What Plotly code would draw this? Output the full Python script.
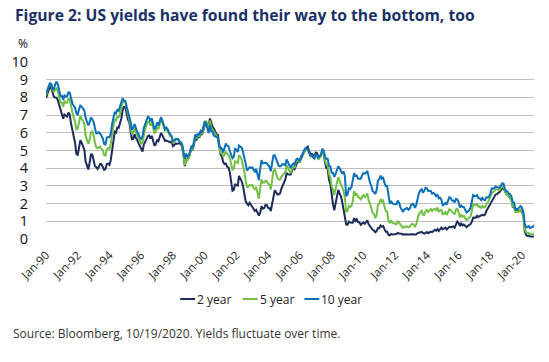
import pandas as pd
import plotly.graph_objects as go

# Monthly US Treasury yields (%), Jan-1990 .. Oct-2020
y2 = [
 7.97, 8.24, 8.42, 8.61, 8.53, 8.24, 8.04, 7.99, 7.98, 7.83, 7.56, 7.25,
 7.02, 6.79, 7.03, 6.97, 6.91, 7.14, 7.04, 6.51, 6.16, 5.81, 5.43, 4.81,
 4.76, 5.17, 5.58, 5.44, 5.28, 5.04, 4.37, 4.20, 3.93, 4.31, 4.77, 4.77,
 4.45, 4.11, 4.07, 3.96, 4.07, 4.24, 4.22, 4.09, 3.91, 3.95, 4.24, 4.26,
 4.19, 4.48, 5.03, 5.60, 6.06, 6.01, 6.30, 6.28, 6.53, 6.81, 7.30, 7.46,
 7.44, 7.06, 6.75, 6.60, 6.09, 5.64, 5.66, 5.91, 5.71, 5.60, 5.40, 5.24,
 5.09, 4.94, 5.34, 5.54, 5.64, 5.81, 5.85, 5.67, 5.83, 5.55, 5.27, 5.35,
 5.61, 5.53, 5.80, 5.99, 5.87, 5.69, 5.54, 5.56, 5.52, 5.46, 5.46, 5.53,
 5.24, 5.31, 5.39, 5.38, 5.41, 5.41, 5.36, 5.21, 4.71, 4.12, 4.53, 4.52,
 4.61, 4.90, 5.11, 5.03, 5.33, 5.70, 5.62, 5.77, 5.75, 5.94, 5.92, 6.14,
 6.44, 6.61, 6.53, 6.40, 6.81, 6.48, 6.34, 6.23, 6.08, 5.91, 5.88, 5.35,
 4.76, 4.66, 4.34, 4.23, 4.26, 4.08, 4.04, 3.76, 3.12, 2.73, 2.78, 3.11,
 3.03, 3.02, 3.56, 3.42, 3.26, 2.99, 2.56, 2.13, 2.00, 1.91, 2.05, 1.94,
 1.80, 1.70, 1.58, 1.65, 1.49, 1.33, 1.47, 1.86, 1.71, 1.75, 1.93, 1.91,
 1.76, 1.74, 1.58, 2.07, 2.53, 2.76, 2.64, 2.51, 2.53, 2.58, 2.85, 3.01,
 3.22, 3.38, 3.73, 3.65, 3.64, 3.64, 3.87, 4.04, 3.95, 4.17, 4.33, 4.35,
 4.45, 4.68, 4.77, 4.90, 5.00, 5.16, 5.22, 4.97, 4.81, 4.80, 4.74, 4.67,
 4.88, 4.85, 4.57, 4.67, 4.77, 4.96, 4.82, 4.31, 4.01, 3.97, 3.34, 3.12,
 2.48, 1.97, 1.62, 2.05, 2.45, 2.77, 2.57, 2.42, 2.08, 1.61, 1.21, 0.82,
 0.81, 0.98, 0.93, 0.93, 0.92, 1.18, 1.02, 1.12, 0.96, 0.95, 0.80, 0.87,
 0.93, 0.86, 0.96, 1.06, 0.83, 0.72, 0.62, 0.52, 0.48, 0.38, 0.45, 0.62,
 0.61, 0.77, 0.70, 0.73, 0.56, 0.41, 0.41, 0.23, 0.21, 0.28, 0.25, 0.26,
 0.24, 0.28, 0.34, 0.29, 0.29, 0.29, 0.25, 0.27, 0.26, 0.28, 0.27, 0.26,
 0.27, 0.27, 0.26, 0.23, 0.25, 0.33, 0.34, 0.36, 0.40, 0.34, 0.30, 0.34,
 0.39, 0.33, 0.40, 0.42, 0.39, 0.45, 0.51, 0.47, 0.57, 0.45, 0.53, 0.64,
 0.55, 0.62, 0.64, 0.54, 0.61, 0.69, 0.67, 0.70, 0.71, 0.64, 0.88, 0.98,
 0.90, 0.73, 0.88, 0.77, 0.82, 0.73, 0.67, 0.74, 0.77, 0.84, 0.98, 1.20,
 1.21, 1.20, 1.31, 1.24, 1.30, 1.34, 1.37, 1.34, 1.38, 1.58, 1.73, 1.84,
 2.03, 2.18, 2.28, 2.38, 2.51, 2.53, 2.61, 2.64, 2.77, 2.86, 2.86, 2.68,
 2.54, 2.50, 2.41, 2.34, 2.21, 1.81, 1.84, 1.57, 1.65, 1.55, 1.61, 1.61,
 1.52, 1.33, 0.45, 0.23, 0.17, 0.19, 0.14, 0.14, 0.13, 0.14,
]
y5 = [
 8.12, 8.42, 8.60, 8.77, 8.74, 8.43, 8.33, 8.44, 8.51, 8.33, 8.02, 7.73,
 7.70, 7.47, 7.77, 7.70, 7.70, 7.94, 7.91, 7.43, 7.14, 6.87, 6.62, 6.19,
 6.24, 6.58, 6.95, 6.78, 6.69, 6.48, 5.84, 5.60, 5.38, 5.60, 6.04, 6.08,
 5.83, 5.43, 5.19, 5.13, 5.20, 5.22, 5.09, 5.03, 4.73, 4.71, 5.06, 5.15,
 5.09, 5.40, 5.94, 6.52, 6.78, 6.70, 6.91, 6.88, 7.08, 7.40, 7.72, 7.78,
 7.76, 7.37, 7.05, 6.86, 6.41, 5.93, 6.01, 6.24, 6.00, 5.86, 5.69, 5.51,
 5.38, 5.44, 5.94, 6.24, 6.42, 6.62, 6.64, 6.41, 6.60, 6.27, 5.97, 6.07,
 6.33, 6.20, 6.54, 6.76, 6.57, 6.38, 6.12, 6.16, 6.11, 5.93, 5.80, 5.77,
 5.42, 5.49, 5.61, 5.61, 5.63, 5.52, 5.46, 5.27, 4.62, 4.18, 4.54, 4.45,
 4.60, 4.91, 5.14, 5.08, 5.44, 5.81, 5.68, 5.84, 5.80, 6.03, 5.97, 6.19,
 6.58, 6.68, 6.50, 6.26, 6.69, 6.30, 6.18, 6.06, 5.93, 5.78, 5.70, 5.17,
 4.86, 4.89, 4.64, 4.76, 4.93, 4.81, 4.76, 4.57, 4.12, 3.91, 3.97, 4.39,
 4.34, 4.30, 4.74, 4.65, 4.49, 4.19, 3.81, 3.29, 2.94, 2.95, 3.05, 3.03,
 3.05, 2.90, 2.78, 2.93, 2.52, 2.27, 2.87, 3.37, 3.18, 3.19, 3.29, 3.27,
 3.12, 3.07, 2.79, 3.39, 3.85, 3.93, 3.69, 3.47, 3.36, 3.35, 3.53, 3.60,
 3.71, 3.77, 4.17, 4.00, 3.85, 3.77, 3.98, 4.12, 4.01, 4.33, 4.45, 4.39,
 4.35, 4.57, 4.72, 4.90, 5.00, 5.07, 5.04, 4.82, 4.67, 4.69, 4.58, 4.53,
 4.75, 4.71, 4.48, 4.59, 4.67, 5.03, 4.88, 4.43, 4.20, 4.20, 3.67, 3.49,
 2.98, 2.78, 2.48, 2.84, 3.15, 3.49, 3.30, 3.14, 2.88, 2.73, 2.29, 1.52,
 1.60, 1.87, 1.82, 1.86, 2.13, 2.71, 2.46, 2.57, 2.37, 2.33, 2.23, 2.34,
 2.48, 2.36, 2.43, 2.58, 2.18, 2.00, 1.76, 1.47, 1.41, 1.18, 1.35, 1.93,
 1.99, 2.26, 2.11, 2.17, 1.84, 1.58, 1.54, 1.02, 0.90, 1.06, 0.91, 0.89,
 0.84, 0.83, 1.02, 0.89, 0.76, 0.71, 0.62, 0.71, 0.67, 0.71, 0.67, 0.70,
 0.81, 0.85, 0.82, 0.71, 0.84, 1.20, 1.40, 1.52, 1.60, 1.37, 1.37, 1.58,
 1.65, 1.52, 1.64, 1.70, 1.59, 1.68, 1.70, 1.63, 1.77, 1.55, 1.62, 1.64,
 1.37, 1.47, 1.52, 1.35, 1.54, 1.68, 1.63, 1.54, 1.49, 1.39, 1.67, 1.70,
 1.52, 1.22, 1.38, 1.26, 1.30, 1.17, 1.07, 1.13, 1.18, 1.27, 1.60, 1.96,
 1.92, 1.90, 2.01, 1.82, 1.84, 1.77, 1.87, 1.78, 1.80, 1.98, 2.05, 2.18,
 2.38, 2.60, 2.63, 2.70, 2.82, 2.78, 2.78, 2.77, 2.89, 3.00, 2.95, 2.68,
 2.54, 2.49, 2.37, 2.33, 2.19, 1.83, 1.83, 1.49, 1.57, 1.53, 1.64, 1.68,
 1.56, 1.32, 0.59, 0.39, 0.34, 0.34, 0.28, 0.27, 0.27, 0.34,
]
y10 = [
 8.21, 8.47, 8.59, 8.79, 8.76, 8.48, 8.47, 8.75, 8.89, 8.72, 8.39, 8.08,
 8.09, 7.85, 8.11, 8.04, 8.07, 8.28, 8.27, 7.90, 7.65, 7.53, 7.42, 7.09,
 7.03, 7.34, 7.54, 7.48, 7.39, 7.26, 6.84, 6.59, 6.42, 6.59, 6.87, 6.77,
 6.60, 6.26, 5.98, 5.97, 6.04, 5.96, 5.81, 5.68, 5.36, 5.33, 5.72, 5.77,
 5.75, 5.97, 6.48, 6.97, 7.18, 7.10, 7.30, 7.24, 7.46, 7.74, 7.96, 7.81,
 7.78, 7.47, 7.20, 7.06, 6.63, 6.17, 6.28, 6.49, 6.20, 6.04, 5.93, 5.71,
 5.65, 5.81, 6.27, 6.51, 6.74, 6.91, 6.87, 6.64, 6.83, 6.53, 6.20, 6.30,
 6.58, 6.42, 6.69, 6.89, 6.71, 6.49, 6.22, 6.30, 6.21, 6.03, 5.88, 5.81,
 5.54, 5.57, 5.65, 5.64, 5.65, 5.50, 5.46, 5.34, 4.81, 4.53, 4.83, 4.65,
 4.72, 5.00, 5.23, 5.18, 5.54, 5.90, 5.79, 5.94, 5.92, 6.11, 6.03, 6.28,
 6.66, 6.52, 6.26, 5.99, 6.44, 6.10, 6.05, 5.83, 5.80, 5.74, 5.72, 5.24,
 5.16, 5.10, 4.89, 5.14, 5.39, 5.28, 5.24, 4.97, 4.73, 4.57, 4.65, 5.09,
 5.04, 4.91, 5.28, 5.21, 5.16, 4.93, 4.65, 4.26, 3.87, 3.94, 4.05, 4.03,
 4.05, 3.90, 3.81, 3.96, 3.57, 3.33, 3.98, 4.45, 4.27, 4.29, 4.30, 4.27,
 4.15, 4.08, 3.83, 4.35, 4.72, 4.73, 4.50, 4.28, 4.13, 4.10, 4.19, 4.23,
 4.22, 4.17, 4.50, 4.34, 4.14, 4.00, 4.18, 4.26, 4.20, 4.46, 4.54, 4.47,
 4.42, 4.57, 4.72, 4.99, 5.11, 5.11, 5.09, 4.88, 4.72, 4.73, 4.60, 4.56,
 4.76, 4.72, 4.56, 4.69, 4.75, 5.10, 5.00, 4.67, 4.52, 4.53, 4.15, 4.10,
 3.74, 3.74, 3.51, 3.68, 3.88, 4.10, 4.01, 3.89, 3.69, 3.81, 3.53, 2.42,
 2.52, 2.87, 2.82, 2.93, 3.29, 3.72, 3.56, 3.59, 3.40, 3.39, 3.40, 3.59,
 3.73, 3.69, 3.73, 3.85, 3.42, 3.20, 3.01, 2.70, 2.65, 2.54, 2.76, 3.29,
 3.39, 3.58, 3.41, 3.46, 3.17, 3.00, 3.00, 2.30, 1.98, 2.15, 2.01, 1.98,
 1.97, 1.97, 2.17, 2.05, 1.80, 1.62, 1.53, 1.68, 1.72, 1.75, 1.65, 1.72,
 1.91, 1.98, 1.96, 1.76, 1.93, 2.30, 2.58, 2.74, 2.81, 2.62, 2.72, 2.90,
 2.86, 2.71, 2.72, 2.71, 2.56, 2.60, 2.54, 2.42, 2.53, 2.30, 2.33, 2.21,
 1.88, 1.98, 2.04, 1.94, 2.20, 2.36, 2.32, 2.17, 2.17, 2.07, 2.26, 2.24,
 2.09, 1.78, 1.89, 1.81, 1.81, 1.64, 1.50, 1.56, 1.63, 1.76, 2.14, 2.49,
 2.43, 2.42, 2.48, 2.30, 2.30, 2.19, 2.32, 2.21, 2.20, 2.36, 2.35, 2.40,
 2.58, 2.86, 2.84, 2.87, 2.98, 2.91, 2.89, 2.89, 3.00, 3.15, 3.12, 2.83,
 2.71, 2.68, 2.57, 2.53, 2.40, 2.07, 2.06, 1.63, 1.70, 1.71, 1.81, 1.86,
 1.76, 1.50, 0.87, 0.66, 0.67, 0.73, 0.62, 0.65, 0.68, 0.79,
]
dates = pd.date_range("1990-01-01", periods=len(y10), freq="MS")

series_names = ["2 year", "5 year", "10 year"]
series_vals = [y2, y5, y10]
colors = ["#1C2B5A", "#72BF44", "#0B6FBA"]

TITLE = "Figure 2: US yields have found their way to the bottom, too"
SOURCE = "Source: Bloomberg, 10/19/2020. Yields fluctuate over time."
FONT = "Open Sans"

fig = go.Figure()
for name, vals, col in zip(series_names, series_vals, colors):
    fig.add_trace(go.Scatter(x=dates, y=vals, mode="lines", name=name,
                             line=dict(color=col, width=2), showlegend=False))

W, H = 549, 362
L, R, T, B = 43, 15, 62, 123
fig.update_layout(
    width=W, height=H,
    margin=dict(l=L, r=R, t=T, b=B),
    paper_bgcolor="white", plot_bgcolor="white",
    font=dict(family=FONT, color="#222222"),
)
fig.update_xaxes(
    type="date", range=["1990-01-01", "2020-10-01"],
    tickformat="%b-%y", tick0="1990-01-01", dtick="M24",
    tickangle=-45, tickfont=dict(size=11.5, color="#222222"),
    showgrid=False, zeroline=False, showline=False,
    ticks="outside", ticklen=0, ticklabelstandoff=4,
)
fig.update_yaxes(
    range=[0, 10], dtick=1, tick0=0,
    tickfont=dict(size=14.5, color="#111111"),
    showgrid=True, gridcolor="#BFBFBF", gridwidth=1.3,
    zeroline=False, showline=False,
    ticks="outside", ticklen=0, ticklabelstandoff=14,
)

def px(xp):
    return (xp - L) / (W - L - R)
def py(yp):
    return (H - B - yp) / (H - T - B)

ann = []
ann.append(dict(text="<b>" + TITLE + "</b>", x=px(10), y=py(15), xanchor="left", yanchor="middle",
                font=dict(size=15.7, color="#1A3066", family=FONT)))
ann.append(dict(text="%", x=px(13), y=py(43), xanchor="left", yanchor="middle",
                font=dict(size=12, color="#111111", family=FONT)))
ann.append(dict(text=SOURCE, x=px(8), y=py(333), xanchor="left", yanchor="middle",
                font=dict(size=12, color="#333333", family=FONT)))

shapes = []
leg_x = [178, 241, 303]
for name, col, lx in zip(series_names, colors, leg_x):
    shapes.append(dict(type="line", xref="paper", yref="paper",
                       x0=px(lx), x1=px(lx + 15), y0=py(299), y1=py(299),
                       line=dict(color=col, width=2)))
    ann.append(dict(text=name, x=px(lx + 15), y=py(299), xanchor="left", yanchor="middle",
                    font=dict(size=12, color="#222222", family=FONT)))
for a in ann:
    a.update(xref="paper", yref="paper", showarrow=False)
fig.update_layout(annotations=ann, shapes=shapes)

fig.write_html("out.html", config={"displayModeBar": False},
               post_script="document.body.style.margin='0';")
